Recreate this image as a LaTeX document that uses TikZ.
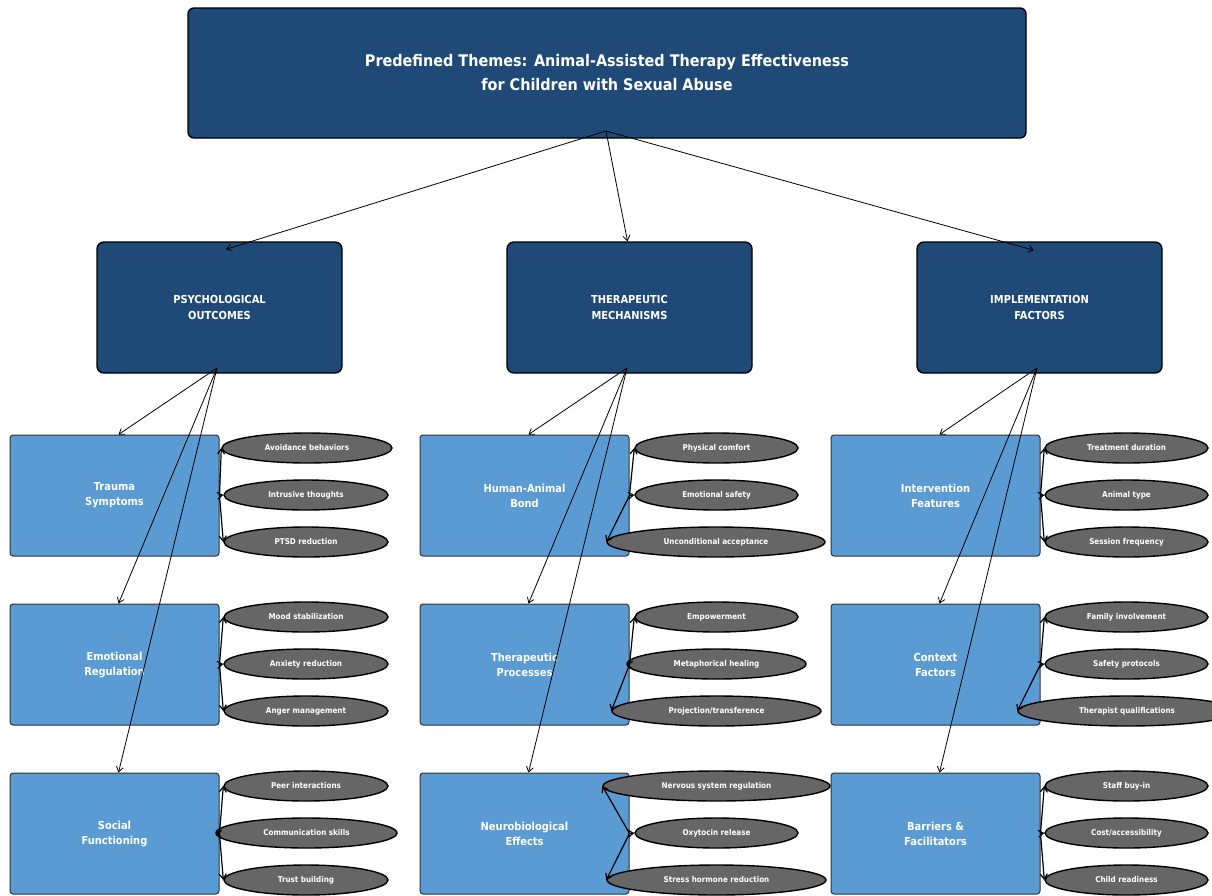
\documentclass[tikz,border=0pt]{standalone}
\usepackage{fontspec}
\setmainfont{DejaVu Sans Condensed}
\usetikzlibrary{shapes.geometric,arrows.meta}
\definecolor{darkblue}{HTML}{1F4A78}
\definecolor{lightblue}{HTML}{5B9BD3}
\definecolor{ellgray}{HTML}{666666}
\tikzset{
  titlebox/.style={draw=black, line width=1.4pt, fill=darkblue, rounded corners=6pt,
    minimum width=838pt, minimum height=130pt, text=white, align=center,
    font=\bfseries\fontsize{16}{24}\selectfont},
  catbox/.style={draw=black, line width=1.4pt, fill=darkblue, rounded corners=7pt,
    minimum width=245pt, minimum height=131pt, text=white, align=center,
    font=\bfseries\fontsize{11}{16}\selectfont},
  subbox/.style={draw=black!80, line width=1pt, fill=lightblue, rounded corners=3pt,
    minimum width=209pt, minimum height=121pt, text=white, align=center,
    font=\bfseries\fontsize{11}{15}\selectfont},
  ell/.style={ellipse, draw=black, line width=1.4pt, fill=ellgray, inner sep=0pt,
    minimum height=30pt, minimum width=#1, text=white,
    font=\bfseries\fontsize{8}{10}\selectfont},
  ell/.default=164pt,
  conn/.style={-{Straight Barb[length=5pt,width=7pt]}, line width=0.8pt, black},
  link/.style={-{Straight Barb[length=5pt,width=7pt]}, line width=1.2pt, black},
}
\begin{document}
\begin{tikzpicture}[x=1pt,y=-1pt]
\useasboundingbox (0,0) rectangle (1212,895);
\fill[white] (0,0) rectangle (1212,895);
% title
\node[titlebox] (title) at (607,73) {Predefined Themes: Animal-Assisted Therapy Effectiveness\\for Children with Sexual Abuse};
\coordinate (tsrc) at (606,131);
% categories
\node[catbox] (psy) at (219.5,307.5) {PSYCHOLOGICAL\\OUTCOMES};
\node[catbox] (ther) at (629.5,307.5) {THERAPEUTIC\\MECHANISMS};
\node[catbox] (impl) at (1039.5,307.5) {IMPLEMENTATION\\FACTORS};
\coordinate (psysrc) at (217,368);
\coordinate (thersrc) at (627,368);
\coordinate (implsrc) at (1037,368);
% sub boxes
\node[subbox] (trauma) at (114.5,495.5) {Trauma\\Symptoms};
\node[subbox] (emo) at (114.5,664.5) {Emotional\\Regulation};
\node[subbox] (soc) at (114.5,833.5) {Social\\Functioning};
\node[subbox] (bond) at (524.5,495.5) {Human-Animal\\Bond};
\node[subbox] (proc) at (524.5,664.5) {Therapeutic\\Processes};
\node[subbox] (neuro) at (524.5,833.5) {Neurobiological\\Effects};
\node[subbox] (interv) at (935.5,495.5) {Intervention\\Features};
\node[subbox] (ctx) at (935.5,664.5) {Context\\Factors};
\node[subbox] (barr) at (935.5,833.5) {Barriers \&\\Facilitators};
% ellipses column 1
\node[ell=170pt] (e11) at (307,448) {Avoidance behaviors};
\node[ell] (e12) at (306,495) {Intrusive thoughts};
\node[ell] (e13) at (306,542) {PTSD reduction};
\node[ell] (e21) at (306,617) {Mood stabilization};
\node[ell] (e22) at (306,664) {Anxiety reduction};
\node[ell] (e23) at (306,711) {Anger management};
\node[ell] (e31) at (306,786) {Peer interactions};
\node[ell=181pt] (e32) at (306.5,833) {Communication skills};
\node[ell] (e33) at (306,880) {Trust building};
% ellipses column 2
\node[ell=163pt] (f11) at (716.5,448) {Physical comfort};
\node[ell=163pt] (f12) at (716.5,495) {Emotional safety};
\node[ell=218pt] (f13) at (716,542) {Unconditional acceptance};
\node[ell=163pt] (f21) at (716.5,617) {Empowerment};
\node[ell=179pt] (f22) at (716.5,664) {Metaphorical healing};
\node[ell=209pt] (f23) at (716.5,711) {Projection/transference};
\node[ell=227pt] (f31) at (716.5,786) {Nervous system regulation};
\node[ell=163pt] (f32) at (716.5,833) {Oxytocin release};
\node[ell=219pt] (f33) at (716.5,880) {Stress hormone reduction};
% ellipses column 3
\node[ell=163pt] (g11) at (1126.5,448) {Treatment duration};
\node[ell=163pt] (g12) at (1126.5,495) {Animal type};
\node[ell=163pt] (g13) at (1126.5,542) {Session frequency};
\node[ell=163pt] (g21) at (1126.5,617) {Family involvement};
\node[ell=163pt] (g22) at (1126.5,664) {Safety protocols};
\node[ell=218pt] (g23) at (1127,711) {Therapist qualifications};
\node[ell=163pt] (g31) at (1126.5,786) {Staff buy-in};
\node[ell=163pt] (g32) at (1126.5,833) {Cost/accessibility};
\node[ell=163pt] (g33) at (1126.5,880) {Child readiness};
% title -> categories
\draw[conn] (tsrc) -- ([shift={(6.5,8)}]psy.north);
\draw[conn] (tsrc) -- ([shift={(-2,0)}]ther.north);
\draw[conn] (tsrc) -- ([shift={(-5.5,9)}]impl.north);
% categories -> subs
\foreach \s in {trauma,emo,soc} \draw[conn] (psysrc) -- ([xshift=4pt]\s.north);
\foreach \s in {bond,proc,neuro} \draw[conn] (thersrc) -- ([xshift=4pt]\s.north);
\foreach \s in {interv,ctx,barr} \draw[conn] (implsrc) -- ([xshift=4pt]\s.north);
% subs -> ellipses
\foreach \b/\a/\c/\d in {trauma/e11/e12/e13, emo/e21/e22/e23, soc/e31/e32/e33,
  bond/f11/f12/f13, proc/f21/f22/f23, neuro/f31/f32/f33,
  interv/g11/g12/g13, ctx/g21/g22/g23, barr/g31/g32/g33}{
  \draw[link] (\b.east) -- (\a.west);
  \draw[link] (\b.east) -- (\c.west);
  \draw[link] (\b.east) -- (\d.west);
}
\end{tikzpicture}
\end{document}
